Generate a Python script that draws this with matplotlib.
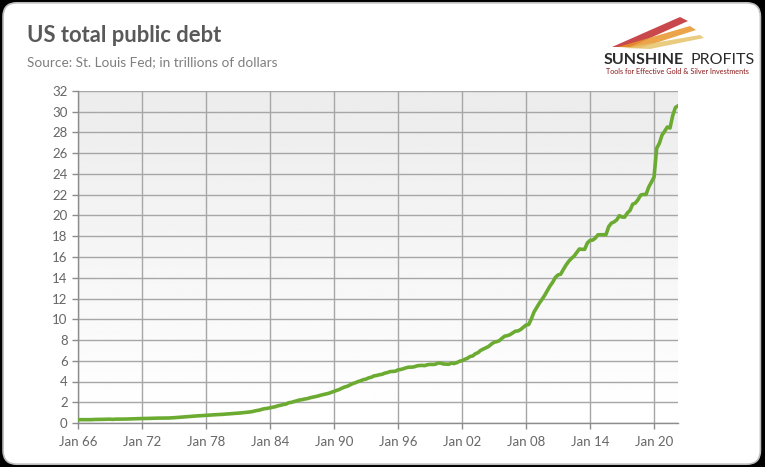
import numpy as np
import pandas as pd
import matplotlib
matplotlib.use("Agg")
import matplotlib.pyplot as plt
from matplotlib.patches import FancyBboxPatch, Polygon

plt.rcParams['font.family'] = ['Lato', 'DejaVu Sans']

# quarterly US total public debt, trillions of dollars (FRED GFDEBTN), from 1966 Q1
debt = [
    0.32, 0.32, 0.32, 0.33,   # 1966
    0.33, 0.32, 0.34, 0.34,   # 1967
    0.35, 0.35, 0.36, 0.37,   # 1968
    0.37, 0.35, 0.37, 0.37,   # 1969
    0.37, 0.37, 0.38, 0.39,   # 1970
    0.39, 0.40, 0.41, 0.42,   # 1971
    0.43, 0.43, 0.44, 0.45,   # 1972
    0.46, 0.46, 0.47, 0.47,   # 1973
    0.47, 0.48, 0.48, 0.49,   # 1974
    0.51, 0.53, 0.55, 0.58,   # 1975
    0.60, 0.62, 0.64, 0.65,   # 1976
    0.67, 0.69, 0.70, 0.72,   # 1977
    0.74, 0.75, 0.77, 0.79,   # 1978
    0.80, 0.81, 0.83, 0.85,   # 1979
    0.86, 0.88, 0.91, 0.93,   # 1980
    0.96, 0.97, 1.00, 1.03,   # 1981
    1.06, 1.08, 1.14, 1.20,   # 1982
    1.24, 1.32, 1.38, 1.41,   # 1983
    1.46, 1.52, 1.57, 1.66,   # 1984
    1.71, 1.78, 1.82, 1.95,   # 1985
    1.99, 2.06, 2.13, 2.21,   # 1986
    2.25, 2.31, 2.35, 2.43,   # 1987
    2.49, 2.55, 2.60, 2.68,   # 1988
    2.74, 2.80, 2.86, 2.95,   # 1989
    3.05, 3.14, 3.23, 3.36,   # 1990
    3.47, 3.54, 3.67, 3.80,   # 1991
    3.88, 3.99, 4.07, 4.18,   # 1992
    4.23, 4.35, 4.41, 4.54,   # 1993
    4.58, 4.65, 4.69, 4.80,   # 1994
    4.86, 4.95, 4.97, 4.99,   # 1995
    5.12, 5.16, 5.23, 5.32,   # 1996
    5.38, 5.38, 5.41, 5.50,   # 1997
    5.54, 5.55, 5.53, 5.61,   # 1998
    5.65, 5.64, 5.66, 5.78,   # 1999
    5.77, 5.69, 5.67, 5.66,   # 2000
    5.77, 5.73, 5.81, 5.94,   # 2001
    6.01, 6.13, 6.23, 6.41,   # 2002
    6.46, 6.67, 6.78, 7.00,   # 2003
    7.13, 7.27, 7.38, 7.60,   # 2004
    7.78, 7.84, 7.93, 8.17,   # 2005
    8.37, 8.42, 8.51, 8.68,   # 2006
    8.85, 8.87, 9.01, 9.23,   # 2007
    9.44, 9.49, 10.03, 10.70,  # 2008
    11.13, 11.55, 11.91, 12.31,  # 2009
    12.77, 13.20, 13.56, 14.03,  # 2010
    14.27, 14.34, 14.79, 15.22,  # 2011
    15.58, 15.86, 16.07, 16.43,  # 2012
    16.77, 16.74, 16.74, 17.35,  # 2013
    17.60, 17.63, 17.82, 18.14,  # 2014
    18.15, 18.15, 18.15, 18.92,  # 2015
    19.26, 19.38, 19.57, 19.98,  # 2016
    19.85, 19.84, 20.24, 20.49,  # 2017
    21.09, 21.20, 21.52, 21.97,  # 2018
    22.03, 22.02, 22.72, 23.20,  # 2019
    23.69, 26.48, 26.95, 27.75,  # 2020
    28.13, 28.53, 28.43, 29.62,  # 2021
    30.40, 30.57,                # 2022
]
dates = pd.date_range('1966-01-01', periods=len(debt), freq='QS')

tick_years = [1966, 1972, 1978, 1984, 1990, 1996, 2002, 2008, 2014, 2020]
tick_labels = ['Jan 66', 'Jan 72', 'Jan 78', 'Jan 84', 'Jan 90',
               'Jan 96', 'Jan 02', 'Jan 08', 'Jan 14', 'Jan 20']
y_ticks = list(range(0, 33, 2))

fig = plt.figure(figsize=(7.65, 4.67), dpi=100, facecolor='black')

# rounded white card with grey border
card = FancyBboxPatch((0.004, 0.006), 0.99, 0.988,
                      boxstyle='round,pad=0,rounding_size=0.018',
                      transform=fig.transFigure, facecolor='white',
                      edgecolor='#bdbdbd', linewidth=1.2,
                      mutation_aspect=765 / 467, zorder=-5)
fig.patches.append(card)

ax = fig.add_axes([78 / 765, 44 / 467, 600 / 765, 332 / 467])
ax.set_zorder(2)
ax.set_facecolor('none')

# light grey to white gradient in plot area
grad = np.linspace(0.925, 1.0, 256).reshape(-1, 1)
ax.imshow(grad, cmap='gray', vmin=0, vmax=1, aspect='auto',
          extent=(0, 1, 0, 1), transform=ax.transAxes, zorder=0,
          origin='upper')

ax.plot(dates, debt, color='#6cab32', linewidth=2.6, zorder=3,
        solid_joinstyle='round')

ax.set_xlim(pd.Timestamp('1966-01-01'), pd.Timestamp('2022-04-01'))
ax.set_ylim(0, 32)
ax.set_xticks([pd.Timestamp(f'{y}-01-01') for y in tick_years])
ax.set_xticklabels(tick_labels)
ax.set_yticks(y_ticks)

ax.grid(True, color='#a6a6a6', linewidth=1.0, zorder=1)
ax.set_axisbelow(True)
for s in ['top', 'right']:
    ax.spines[s].set_visible(False)
for s in ['left', 'bottom']:
    ax.spines[s].set_color('#8c8c8c')
    ax.spines[s].set_linewidth(1.0)
ax.tick_params(axis='both', colors='#8c8c8c', labelcolor='#666666',
               labelsize=9.5, length=4, width=1.0)
ax.tick_params(axis='x', pad=5)

# title
fig.text(27 / 765, 1 - 36 / 467, 'US total public debt', fontsize=15.8,
         fontweight='bold', color='#595959', va='center', ha='left')
fig.text(27 / 765, 1 - 62 / 467, 'Source: St. Louis Fed; in trillions of dollars',
         fontsize=9.8, color='#7f7f7f', va='center', ha='left')

# logo
def fx(px):
    return px / 765

def fy(py):
    return 1 - py / 467

streaks = [
    ([(612, 47), (680, 17), (688, 21), (630, 47)], '#c0282d'),
    ([(618, 47), (690, 26), (696, 30), (640, 48)], '#e8942a'),
    ([(624, 48), (700, 35), (704, 38), (650, 49)], '#e6c36a'),
]
for pts, col in streaks:
    poly = Polygon([(fx(x), fy(y)) for x, y in pts], closed=True,
                   transform=fig.transFigure, facecolor=col, edgecolor='none',
                   alpha=0.85, zorder=1)
    fig.patches.append(poly)

fig.text(fx(604), fy(60), 'SUNSHINE', fontsize=11.5, fontweight='bold',
         color='#2b2b2b', va='center', ha='left')
fig.text(fx(690), fy(60), 'PROFITS', fontsize=11.5, color='#2b2b2b',
         va='center', ha='left')
fig.text(fx(606), fy(71), 'Tools for Effective Gold & Silver Investments',
         fontsize=5.2, color='#8b1a1a', va='center', ha='left')

fig.savefig('out.png', dpi=100, facecolor=fig.get_facecolor())
